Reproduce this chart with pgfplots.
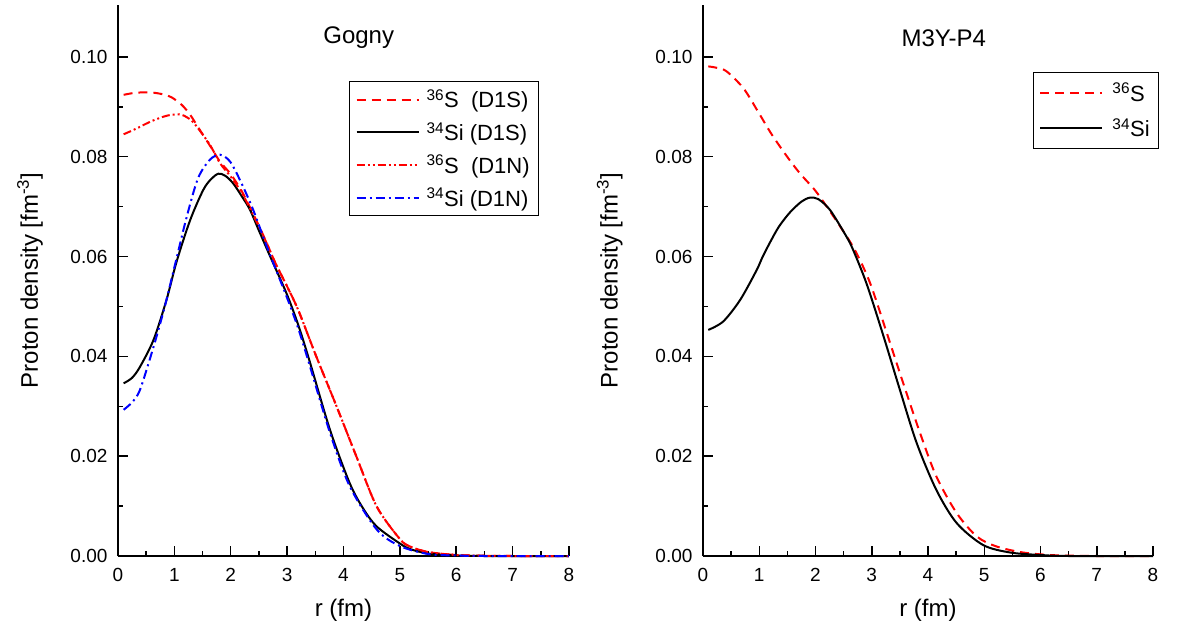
\documentclass[border=0pt]{standalone}
\usepackage{pgfplots}
\pgfplotsset{compat=1.18}
\usepackage{fontspec}
\setmainfont{Liberation Sans}

\tikzset{
  redd/.style={red, line width=2pt, dash pattern=on 9pt off 6pt},
  blk/.style={black, line width=2pt, solid},
  reddd/.style={red, line width=2pt, dash pattern=on 8pt off 3pt on 2pt off 3pt on 2pt off 3pt},
  blued/.style={blue, line width=2pt, dash pattern=on 9pt off 4pt on 2pt off 4pt},
}

\pgfplotsset{
  myaxis/.style={
    scale only axis, width=451pt, height=551pt,
    anchor=south west,
    xmin=0, xmax=8, ymin=0, ymax=0.1104,
    axis x line*=bottom, axis y line*=left,
    axis line style={line width=1.8pt},
    tick align=inside,
    major tick length=10pt, minor tick length=5pt,
    every tick/.style={line width=1.5pt, black},
    xtick={0,1,...,8}, minor xtick={0.5,1.5,...,7.5},
    ytick={0,0.02,...,0.1}, minor ytick={0.01,0.03,...,0.09},
    scaled y ticks=false,
    yticklabel style={xshift=-7pt, /pgf/number format/.cd, fixed, fixed zerofill, precision=2, assume math mode=true},
    xticklabel style={yshift=-9pt, /pgf/number format/assume math mode=true},
    tick label style={font=\fontsize{19}{22}\selectfont},
    label style={font=\fontsize{24}{28}\selectfont},
    xlabel={r (fm)},
    ylabel={Proton density [fm\textsuperscript{-3}]},
    xlabel style={at={(axis description cs:0.5,-0.098)}, anchor=center},
    clip=false,
    legend cell align=left,
    legend image code/.code={\draw[#1] (0pt,0pt) -- (62pt,0pt);},
    legend style={draw=black, line width=1.2pt, anchor=north west,
      inner xsep=6pt, inner ysep=5pt, row sep=7pt,
      nodes={font=\fontsize{22}{26}\selectfont, inner sep=3pt}},
  },
}

\begin{document}
\begin{tikzpicture}[x=1pt,y=1pt]
\path[use as bounding box] (0,0) rectangle (1178,633);

\begin{axis}[myaxis, at={(118pt,77pt)},
  ylabel style={at={(axis description cs:-0.195,0.5)}, anchor=center},
  legend style={at={(rel axis cs:0.512,0.862)}}]
\addplot[redd, smooth] coordinates {
(0.1,0.0924) (0.3,0.0928) (0.567,0.0929) (0.8,0.0925) (0.95,0.0919) (1.13,0.0904)
(1.28,0.0884) (1.45,0.0854) (1.66,0.0817) (1.81,0.0790) (2.0,0.0765) (2.2,0.0730)
(2.4,0.0685) (2.6,0.0637) (2.8,0.0585) (3.0,0.0540) (3.2,0.0492) (3.52,0.0399)
(3.88,0.0299) (4.23,0.0199) (4.59,0.0099) (5.0,0.0034) (5.18,0.0019) (5.5,0.0008)
(6.0,0.0002) (6.5,0.00005) (7,0) (8,0)};
\addlegendentry{\hspace{4pt}\textsuperscript{36}S\ \ (D1S)\hspace{4pt}}
\addplot[blk, smooth] coordinates {
(0.1,0.0346) (0.25,0.0357) (0.39,0.0379) (0.63,0.0433) (0.86,0.0513) (1.04,0.0590)
(1.28,0.0673) (1.51,0.0733) (1.65,0.0755) (1.78,0.0766) (1.9,0.0762) (2.04,0.0747)
(2.2,0.0720) (2.34,0.0694) (2.5,0.0652) (2.70,0.0600) (2.99,0.0526) (3.2,0.0462)
(3.40,0.0390) (3.76,0.0253) (4.11,0.0146) (4.35,0.0095) (4.59,0.0059) (5.0,0.0025)
(5.18,0.0014) (5.5,0.0005) (6.0,0.0001) (6.5,0) (8,0)};
\addlegendentry{\hspace{4pt}\textsuperscript{34}Si (D1S)\hspace{4pt}}
\addplot[reddd, smooth] coordinates {
(0.1,0.0845) (0.3,0.0855) (0.57,0.0870) (0.8,0.0880) (0.95,0.0884) (1.13,0.0884)
(1.3,0.0873) (1.42,0.0857) (1.63,0.0824) (1.81,0.0787) (2.0,0.0760) (2.2,0.0727)
(2.4,0.0683) (2.6,0.0636) (2.8,0.0585) (3.0,0.0540) (3.2,0.0492) (3.52,0.0399)
(3.88,0.0299) (4.23,0.0199) (4.59,0.0099) (5.0,0.0034) (5.18,0.0019) (5.5,0.0008)
(6.0,0.0002) (6.5,0.00005) (7,0) (8,0)};
\addlegendentry{\hspace{4pt}\textsuperscript{36}S\ \ (D1N)\hspace{4pt}}
\addplot[blued, smooth] coordinates {
(0.1,0.0293) (0.25,0.0308) (0.39,0.0333) (0.63,0.0419) (0.83,0.0500) (1.04,0.0597)
(1.22,0.0680) (1.42,0.0757) (1.63,0.0794) (1.81,0.0804) (1.99,0.0790) (2.19,0.0747)
(2.40,0.0693) (2.64,0.0620) (2.99,0.0520) (3.2,0.0455) (3.40,0.0382) (3.76,0.0247)
(4.11,0.0140) (4.59,0.0053) (5.0,0.0020) (5.5,0.0004) (6.0,0.0001) (6.5,0) (8,0)};
\addlegendentry{\hspace{4pt}\textsuperscript{34}Si (D1N)\hspace{4pt}}
\node[font=\fontsize{24}{28}\selectfont] at (axis cs:4.27,0.1038) {Gogny};
\end{axis}

\begin{axis}[myaxis, at={(703pt,77pt)}, width=450pt,
  ylabel style={at={(axis description cs:-0.207,0.5)}, anchor=center},
  legend style={at={(rel axis cs:0.733,0.878)}, row sep=10pt, inner ysep=7pt}]
\addplot[redd, smooth] coordinates {
(0.094,0.0981) (0.25,0.0978) (0.42,0.0971) (0.72,0.0937) (0.98,0.0890) (1.22,0.0845)
(1.49,0.0801) (1.72,0.0767) (1.99,0.0733) (2.20,0.0700) (2.44,0.0660) (2.70,0.0613)
(2.97,0.0547) (3.27,0.0446) (3.56,0.0346) (3.86,0.0246) (4.15,0.0159) (4.51,0.0086)
(4.87,0.0039) (5.22,0.0019) (5.69,0.0007) (6.17,0.0002) (6.6,0.00005) (7,0) (8,0)};
\addlegendentry{\hspace{6pt}\textsuperscript{36}S\hspace{1pt}}
\addplot[blk, smooth] coordinates {
(0.094,0.0453) (0.36,0.0470) (0.66,0.0513) (0.95,0.0572) (1.05,0.0597) (1.19,0.0628)
(1.35,0.0660) (1.55,0.0689) (1.75,0.0710) (1.90,0.0718) (2.05,0.0715) (2.26,0.0693)
(2.55,0.0640) (2.67,0.0613) (2.91,0.0545) (3.21,0.0440) (3.50,0.0333) (3.80,0.0226)
(4.15,0.0132) (4.51,0.0066) (4.98,0.0022) (5.46,0.0007) (6.0,0.0002) (6.5,0) (8,0)};
\addlegendentry{\hspace{6pt}\textsuperscript{34}Si\hspace{1pt}}
\node[font=\fontsize{24}{28}\selectfont] at (axis cs:4.28,0.1038) {M3Y-P4};
\end{axis}
\end{tikzpicture}
\end{document}
